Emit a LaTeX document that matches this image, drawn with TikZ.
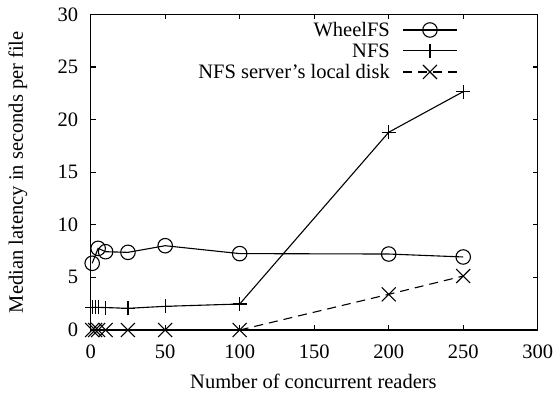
\documentclass[tikz,border=0pt]{standalone}
\usepackage{fontspec}
\setmainfont{Liberation Serif}
\begin{document}
\begin{tikzpicture}[x=1pt,y=1pt,
  font=\fontsize{20.5}{24}\selectfont,
  dataline/.style={line width=1.1pt},
  frame/.style={line width=1.2pt},
  circmark/.style={circle,draw,line width=1.1pt,minimum size=14.5pt,inner sep=0pt},
  plusmark/.pic={\draw[line width=1.1pt] (-7pt,0)--(7pt,0) (0,-7pt)--(0,7pt);},
  crossmark/.pic={\draw[line width=1.1pt] (-7pt,-7pt)--(7pt,7pt) (-7pt,7pt)--(7pt,-7pt);},
  dashline/.style={line width=1.1pt,dash pattern=on 9pt off 6pt}]
\useasboundingbox (0,0) rectangle (557,394);
\begin{scope}[shift={(90.7,64)},x=1.49pt,y=10.523pt]
  % frame
  \draw[frame] (0,0) rectangle (300,30);
  % ticks
  \foreach \t in {0,50,...,300} {
    \draw[frame] (\t,0) -- ++(0,0.475) (\t,30) -- ++(0,-0.475);
    \node (xl\t) at (\t,-2.06) {\t};
  }
  \foreach \t in {0,5,...,30} {
    \draw[frame] (0,\t) -- ++(3.36,0) (300,\t) -- ++(-3.36,0);
    \node[anchor=east,inner sep=0pt] (yl\t) at (-8.3,\t) {\t};
  }
  \node (xlab) at (149.5,-4.85) {Number of concurrent readers};
  \node[rotate=90] (ylab) at (-48.8,15) {Median latency in seconds per file};
  % data coordinates
  \coordinate (w1) at (1,6.34);
  \coordinate (w2) at (5,7.76);
  \coordinate (w3) at (10,7.44);
  \coordinate (w4) at (25,7.38);
  \coordinate (w5) at (50,8.01);
  \coordinate (w6) at (100,7.26);
  \coordinate (w7) at (200,7.22);
  \coordinate (w8) at (250,6.94);
  \coordinate (n1) at (1,2.15);
  \coordinate (n2) at (3,2.15);
  \coordinate (n3) at (5,2.15);
  \coordinate (n4) at (10,2.13);
  \coordinate (n5) at (25,2.06);
  \coordinate (n6) at (50,2.25);
  \coordinate (n7) at (100,2.47);
  \coordinate (n8) at (200,18.79);
  \coordinate (n9) at (250,22.65);
  \coordinate (l1) at (1,0);
  \coordinate (l2) at (3,0);
  \coordinate (l3) at (5,0);
  \coordinate (l4) at (10,0);
  \coordinate (l5) at (25,0);
  \coordinate (l6) at (50,0);
  \coordinate (l7) at (100,0);
  \coordinate (l8) at (200,3.39);
  \coordinate (l9) at (250,5.13);
  % lines
  \draw[dataline] (w1)--(w2)--(w3)--(w4)--(w5)--(w6)--(w7)--(w8);
  \draw[dataline] (n1)--(n2)--(n3)--(n4)--(n5)--(n6)--(n7)--(n8)--(n9);
  \draw[dashline] (l7)--(l8)--(l9);
  % markers
  \foreach \i in {1,...,8} \node[circmark] (wm\i) at (w\i) {};
  \foreach \i in {1,...,9} \pic at (n\i) {plusmark};
  \foreach \i in {1,...,9} \pic at (l\i) {crossmark};
  % legend
  \node[anchor=east,inner sep=0pt] (lg1) at (200.9,28.51) {WheelFS};
  \node[anchor=east,inner sep=0pt] (lg2) at (200.9,26.54) {NFS};
  \node[anchor=east,inner sep=0pt] (lg3) at (200.9,24.52) {NFS server’s local disk};
  \coordinate (a1) at (209.6,28.51); \coordinate (b1) at (245.8,28.51); \coordinate (c1) at (227.7,28.51);
  \coordinate (a2) at (209.6,26.54); \coordinate (b2) at (245.8,26.54); \coordinate (c2) at (227.7,26.54);
  \coordinate (a3) at (209.6,24.52); \coordinate (b3) at (245.8,24.52); \coordinate (c3) at (227.7,24.52);
  \draw[dataline] (a1)--(b1);
  \node[circmark] (lm1) at (c1) {};
  \draw[dataline] (a2)--(b2);
  \pic at (c2) {plusmark};
  \draw[dashline] (a3)--(b3);
  \pic at (c3) {crossmark};
\end{scope}
\end{tikzpicture}
\end{document}
